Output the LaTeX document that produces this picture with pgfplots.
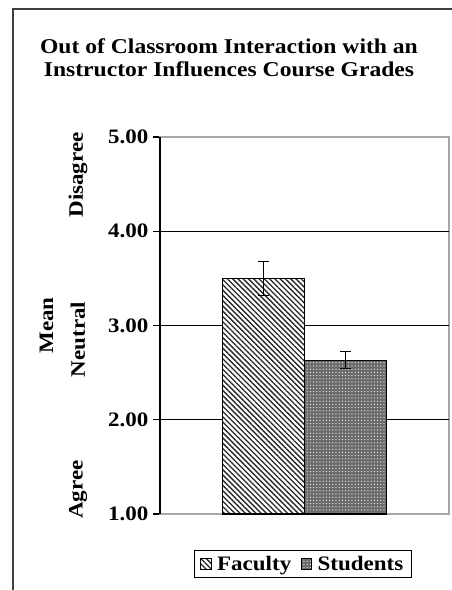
\documentclass[border=0pt]{standalone}
\usepackage{fontspec}
\setmainfont{Liberation Serif}[FakeStretch=1.12]
\usepackage{pgfplots}
\pgfplotsset{compat=1.18}
\usetikzlibrary{patterns,patterns.meta}
\newcommand{\lbl}{\fontsize{15.4}{18}\selectfont\bfseries}
\begin{document}
\begin{tikzpicture}
\useasboundingbox (0,0) rectangle (338.25pt,442.5pt);
\begin{scope}[x=0.75pt,y=0.75pt]
\draw[line width=1pt, black!75] (13,-10) -- (13,581) -- (470,581);
\node[font=\fontsize{15.8}{17.5}\selectfont\bfseries, align=center] at (229,532) {Out of Classroom Interaction with an\\Instructor Influences Course Grades};
\node[rotate=90, font=\lbl] at (78,415) {Disagree};
\node[rotate=90, font=\lbl] at (78,250.5) {Neutral};
\node[rotate=90, font=\lbl] at (78,100.5) {Agree};
\node[rotate=90, font=\lbl] at (46.5,264.5) {Mean};
\end{scope}
\begin{axis}[
  at={(120pt,57pt)}, anchor=south west,
  scale only axis, width=216.75pt, height=282.75pt,
  xmin=0, xmax=1, ymin=1, ymax=5,
  xtick=\empty,
  ytick={1,2,3,4,5},
  ytick pos=left, tick align=outside, major tick length=5.25pt,
  ytick style={black, line width=0.8pt},
  extra y ticks={2,3,4}, extra y tick labels={},
  extra y tick style={grid=major, major tick length=0pt, grid style={black, line width=0.8pt}},
  /pgf/number format/assume math mode=true,
  yticklabel={\pgfmathprintnumber[fixed,fixed zerofill,precision=2]{\tick}},
  yticklabel style={font=\lbl},
  axis line style={gray!70, line width=1pt},
  ybar=0pt, bar width=61.5pt,
  clip=false,
  legend style={at={(0.495,-0.1326)}, anchor=center, legend columns=2, draw=black, line width=0.6pt,
    font=\lbl, inner xsep=4pt, inner ysep=2pt,
    /tikz/every odd column/.append style={column sep=2pt},
    /tikz/every even column/.append style={column sep=5pt}},
  legend image code/.code={\draw[#1] (0pt,-4pt) rectangle (8pt,4pt);},
]
\addplot[draw=black, line width=0.8pt, fill=white,
  postaction={pattern={Lines[angle=-45,distance=2.8pt,line width=1pt]}, pattern color=black!85},
  error bars/.cd, y dir=both, y explicit,
  error bar style={black, line width=0.8pt},
  error mark options={rotate=90, mark size=4pt, black, line width=0.8pt}]
  coordinates {(0.5,3.50) +- (0,0.18)};
\addplot[draw=black, line width=0.8pt, fill=black!58,
  postaction={pattern={Dots[distance=2.4pt,radius=0.45pt]}, pattern color=white},
  error bars/.cd, y dir=both, y explicit,
  error bar style={black, line width=0.8pt},
  error mark options={rotate=90, mark size=4pt, black, line width=0.8pt}]
  coordinates {(0.5,2.63) +- (0,0.09)};
\legend{Faculty,Students}
\draw[black, line width=1pt] (rel axis cs:0,0) -- (rel axis cs:0,1);
\end{axis}
\end{tikzpicture}
\end{document}
